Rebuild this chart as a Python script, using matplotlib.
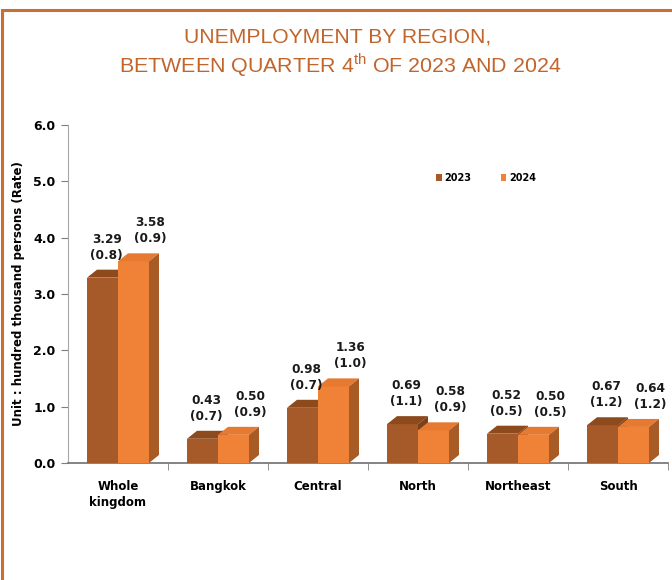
import matplotlib
matplotlib.use("Agg")
import matplotlib.pyplot as plt
from matplotlib.patches import Polygon, Rectangle
from matplotlib.ticker import FixedLocator, FormatStrFormatter

# ── Data ──────────────────────────────────────────────────────────────────────
regions = ["Whole\nkingdom", "Bangkok", "Central", "North", "Northeast", "South"]
val_2023 = [3.29, 0.43, 0.98, 0.69, 0.52, 0.67]
val_2024 = [3.58, 0.50, 1.36, 0.58, 0.50, 0.64]
rate_2023 = ["0.8", "0.7", "0.7", "1.1", "0.5", "1.2"]
rate_2024 = ["0.9", "0.9", "1.0", "0.9", "0.5", "1.2"]
years = ["2023", "2024"]

# ── Style ─────────────────────────────────────────────────────────────────────
FRONT = {"2023": "#A65A29", "2024": "#EF8236"}
TOP = {"2023": "#8C4A1D", "2024": "#E57A30"}
SIDE = {"2023": "#7C4118", "2024": "#A95B25"}
TITLE_C = "#C2652C"
BORDER_C = "#C8702F"
AXIS_C = "#7F7F7F"

plt.rcParams["mathtext.fontset"] = "custom"
plt.rcParams["mathtext.rm"] = "Liberation Sans"

fig = plt.figure(figsize=(6.72, 5.8), dpi=100)
ax = fig.add_axes([68 / 672, 1 - 463 / 580, 600 / 672, 338 / 580])

bar_w = 0.31
dx = 0.10            # depth offset in category units (10 px)
dy = 8 / (338 / 6)   # depth offset in value units (8 px)


def bar3d(x0, h, year):
    x1 = x0 + bar_w
    ax.add_patch(Rectangle((x0, 0), bar_w, h, facecolor=FRONT[year],
                           edgecolor="none", zorder=3))
    ax.add_patch(Polygon([(x0, h), (x0 + dx, h + dy), (x1 + dx, h + dy), (x1, h)],
                         closed=True, facecolor=TOP[year], edgecolor="none",
                         zorder=3))
    ax.add_patch(Polygon([(x1, 0), (x1 + dx, dy), (x1 + dx, h + dy), (x1, h)],
                         closed=True, facecolor=SIDE[year], edgecolor="none",
                         zorder=3, clip_on=False))


for i in range(len(regions)):
    bar3d(i - bar_w, val_2023[i], "2023")
    bar3d(i, val_2024[i], "2024")
    ax.annotate(f"{val_2023[i]:.2f}\n({rate_2023[i]})",
                xy=(i - bar_w / 2, val_2023[i]), xytext=(3, 11.5),
                textcoords="offset points", ha="center", va="bottom",
                fontsize=8.7, fontweight="bold", linespacing=1.3,
                color="#1a1a1a", zorder=4)
    ax.annotate(f"{val_2024[i]:.2f}\n({rate_2024[i]})",
                xy=(i + bar_w / 2, val_2024[i]), xytext=(12, 11.5),
                textcoords="offset points", ha="center", va="bottom",
                fontsize=8.7, fontweight="bold", linespacing=1.3,
                color="#1a1a1a", zorder=4)

ax.set_xlim(-0.5, len(regions) - 0.5)
ax.set_ylim(0, 6)

ax.yaxis.set_major_locator(FixedLocator([0, 1, 2, 3, 4, 5, 6]))
ax.yaxis.set_major_formatter(FormatStrFormatter("%.1f"))
ax.set_xticks(range(len(regions)))
ax.set_xticklabels(regions, fontsize=8.5, fontweight="bold", linespacing=1.3)
ax.set_xticks([i + 0.5 for i in range(len(regions))], minor=True)
ax.tick_params(axis="x", which="major", length=0, pad=12)
ax.tick_params(axis="x", which="minor", length=5, color=AXIS_C, direction="out")
ax.tick_params(axis="y", length=5, color=AXIS_C, direction="out", pad=4)
for lab in ax.get_yticklabels():
    lab.set_fontweight("bold")
    lab.set_fontsize(9)

for s in ["top", "right"]:
    ax.spines[s].set_visible(False)
ax.spines["left"].set_color("#A6A6A6")
ax.spines["bottom"].set_color("#6F6F6F")
ax.spines["bottom"].set_linewidth(1.2)

ax.set_ylabel("Unit : hundred thousand persons (Rate)", fontsize=8.5,
              fontweight="bold", labelpad=6)

# ── Legend ────────────────────────────────────────────────────────────────────
handles = [Rectangle((0, 0), 1, 1, facecolor=FRONT[y], edgecolor="none")
           for y in years]
fig.legend(handles, years, loc="center", bbox_to_anchor=(486 / 672, 1 - 178 / 580),
           ncol=2, frameon=False, handlelength=0.6, handleheight=0.6,
           handletextpad=0.3, columnspacing=3.0,
           prop={"size": 7, "weight": "bold"})

# ── Title ─────────────────────────────────────────────────────────────────────
fig.text(338 / 672, 1 - 37 / 580, "UNEMPLOYMENT BY REGION,", ha="center",
         va="center", fontsize=15.2, color=TITLE_C, family="Liberation Sans")
fig.text(340 / 672, 1 - 65 / 580,
         r"BETWEEN QUARTER 4$^{\mathrm{th}}$ OF 2023 AND 2024", ha="center",
         va="center", fontsize=15.4, color=TITLE_C, family="Liberation Sans")

# ── Frame ─────────────────────────────────────────────────────────────────────
fig.patches.append(Rectangle((2 / 672, -0.2), 1.5, 1.2 - 10 / 580,
                             transform=fig.transFigure, fill=False,
                             edgecolor=BORDER_C, linewidth=2.2))

fig.savefig("out.png", dpi=100, facecolor="white")
